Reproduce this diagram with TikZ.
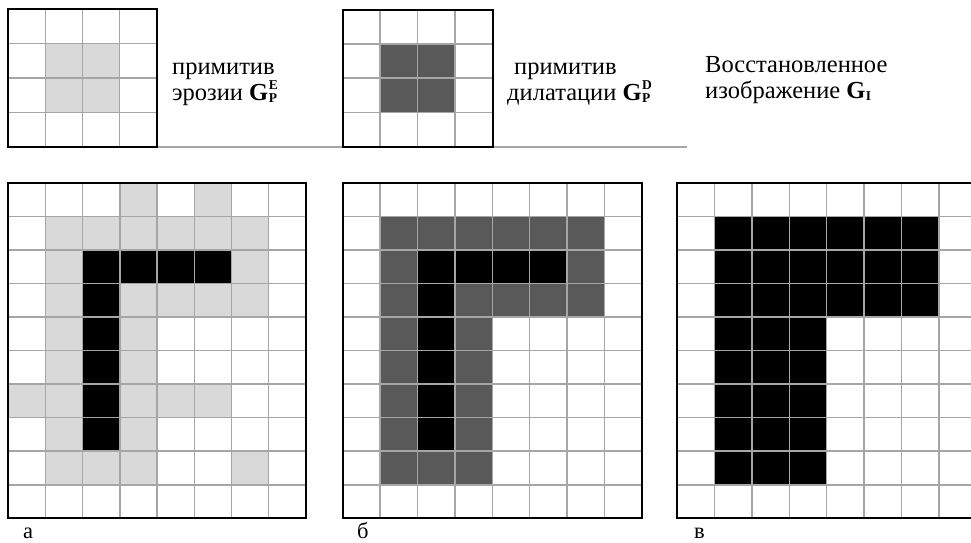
\documentclass[tikz,border=0pt]{standalone}
\usepackage{fontspec}
\setmainfont{Liberation Serif}
\definecolor{cellgray}{HTML}{D9D9D9}
\definecolor{celldark}{HTML}{595959}
\definecolor{gridgray}{HTML}{A6A6A6}
% draws a grid of #1 columns and #2 rows in the current cell units
\newcommand\pixgrid[2]{%
  \foreach \i in {0,...,#1} \draw[gridline] (\i,0) -- (\i,#2);
  \foreach \j in {0,...,#2} \draw[gridline] (0,\j) -- (#1,\j);
  \draw[gridborder] (0,0) rectangle (#1,#2);
}
% bold G with a stacked superscript #1 and subscript #2
\newcommand\idxfont{\fontsize{13.5}{14}\selectfont\bfseries}
\newcommand\gsymb[2]{\textbf{G}\kern0.5pt\makebox[0pt][l]{\raisebox{10.5pt}{\idxfont #1}}\raisebox{-2pt}{\idxfont #2}}
\begin{document}
\begin{tikzpicture}[x=1pt,y=-1pt,
  gridline/.style={gridgray,line width=1.5pt},
  gridborder/.style={black,line width=2pt},
  caption/.style={inner sep=0pt,anchor=base west,font=\fontsize{24.5}{26}\selectfont},
  sublabel/.style={inner sep=0pt,anchor=base west,font=\fontsize{22.5}{24}\selectfont}]
\useasboundingbox (0,0) rectangle (971,542);
\clip (0,0) rectangle (971,542);

% rule under the structuring elements
\draw[gridgray,line width=1.7pt] (156.7,146.7) -- (686.7,146.7);

% erosion primitive
\begin{scope}[shift={(8.3,9.3)},x=37.1pt,y=-34.35pt]
  \fill[cellgray] (1,1) rectangle (3,3);
  \pixgrid{4}{4}
\end{scope}
% dilation primitive
\begin{scope}[shift={(342.7,9.7)},x=37.5pt,y=-34.25pt]
  \fill[celldark] (1,1) rectangle (3,3);
  \pixgrid{4}{4}
\end{scope}

\node[caption] (ero1) at (172,74) {примитив};
\node[caption] (ero2) at (172,100) {эрозии \gsymb{E}{P}};
\node[caption] (dil1) at (514,74) {примитив};
\node[caption] (dil2) at (507,100) {дилатации \gsymb{D}{P}};
\node[caption] (rec1) at (705,72) {Восстановленное};
\node[caption] (rec2) at (705,98) {изображение \gsymb{}{I}};

% (а) image after erosion
\begin{scope}[shift={(8.3,182.7)},x=37.2pt,y=-33.56pt]
  \foreach \c/\r in {3/0,5/0,1/1,2/1,3/1,4/1,5/1,6/1,1/2,6/2,1/3,3/3,4/3,5/3,6/3,
      1/4,3/4,1/5,3/5,0/6,1/6,3/6,4/6,5/6,1/7,3/7,1/8,2/8,3/8,6/8}
    \fill[cellgray] (\c,\r) rectangle ++(1,1);
  \fill[black] (2,2) rectangle (6,3);
  \fill[black] (2,3) rectangle (3,8);
  \pixgrid{8}{10}
\end{scope}

% (б) dilation of the eroded image
\begin{scope}[shift={(342.7,182.7)},x=37.4pt,y=-33.56pt]
  \fill[celldark] (1,1) rectangle (7,4);
  \fill[celldark] (1,4) rectangle (4,9);
  \fill[black] (2,2) rectangle (6,3);
  \fill[black] (2,3) rectangle (3,8);
  \pixgrid{8}{10}
\end{scope}

% (в) reconstructed image
\begin{scope}[shift={(677.3,182.7)},x=37.35pt,y=-33.56pt]
  \fill[black] (1,1) rectangle (7,4);
  \fill[black] (1,4) rectangle (4,9);
  \pixgrid{8}{10}
\end{scope}

\node[sublabel] (la) at (23,538) {а};
\node[sublabel] (lb) at (357,538) {б};
\node[sublabel] (lc) at (694,538) {в};
\end{tikzpicture}
\end{document}
